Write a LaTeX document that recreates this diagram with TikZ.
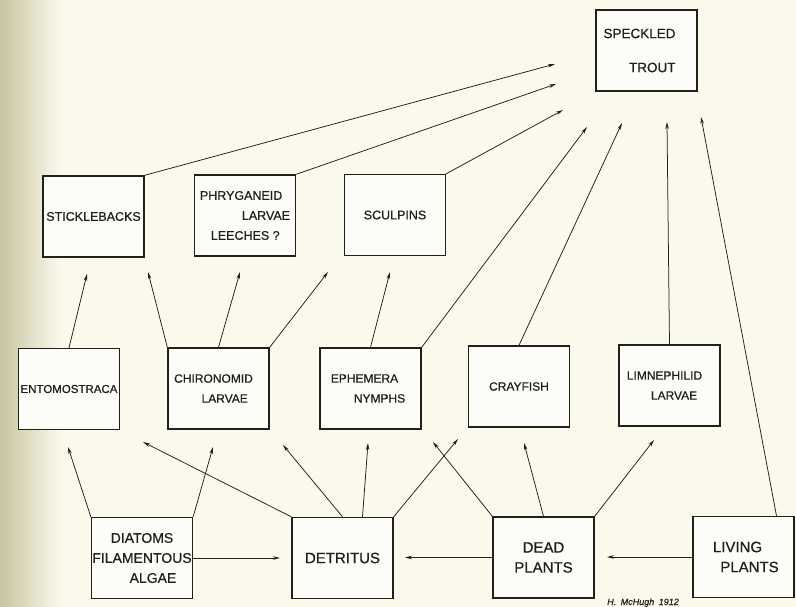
\documentclass[tikz,border=0pt]{standalone}
\usepackage{fontspec}
\setmainfont{Liberation Sans}[FakeBold=0.6]
\usetikzlibrary{arrows.meta}
\definecolor{paper}{RGB}{250,249,236}
\definecolor{paperedge}{RGB}{200,196,160}
\definecolor{boxfill}{RGB}{253,253,248}
\definecolor{ink}{RGB}{32,32,28}

\begin{document}
\begin{tikzpicture}[x=1pt,y=-1pt,>={Stealth[length=7pt,width=3.5pt]},
  box/.style={draw=ink,fill=boxfill,line width=1.4pt,minimum width=101pt,
    minimum height=81pt,inner sep=0pt,align=center,text=ink},
  upper/.style={box,font=\fontsize{12.5}{20}\selectfont},
  middle/.style={box,font=\fontsize{12}{20}\selectfont},
  lower/.style={box,font=\fontsize{15}{20}\selectfont},
  feed/.style={draw=ink,line width=.75pt,->}]
  \fill[paper] (0,0) rectangle (796,607);
  \shade[left color=paperedge,right color=paper] (0,0) rectangle (60,607);
  \useasboundingbox (0,0) rectangle (796,607);

  % fish
  \node[box,align=right,font=\fontsize{13.5}{20}\selectfont] (trout) at (646.5,50.5)
    {SPECKLED\kern14pt\\[14pt]TROUT\kern14pt};
  \node[upper] (stick) at (93.5,216.5) {STICKLEBACKS};
  \node[upper,align=left] (phry) at (245,215.5)
    {PHRYGANEID\\\hspace*{42pt}LARVAE\\\hspace*{11pt}LEECHES ?};
  \node[upper] (sculp) at (395,215) {SCULPINS};

  % middle row
  \node[middle,font=\fontsize{11.5}{20}\selectfont] (ento) at (69,389) {ENTOMOSTRACA};
  \node[middle,align=right] (chiro) at (218.5,388.5) {CHIRONOMID\kern10pt\\LARVAE\kern15pt};
  \node[middle,align=right] (ephem) at (370.5,388.5) {EPHEMERA\kern12pt\\NYMPHS\kern5pt};
  \node[middle] (cray) at (519,386.5) {CRAYFISH};
  \node[middle,align=right] (limn) at (669.5,385.5) {LIMNEPHILID\kern10pt\\LARVAE\kern15pt};

  % food base
  \node[lower,font=\fontsize{14}{20}\selectfont] (diat) at (142,558)
    {DIATOMS\\FILAMENTOUS\\\hspace*{22pt}ALGAE};
  \node[lower] (detr) at (342.5,558) {DETRITUS};
  \node[lower] (dead) at (543.5,557.5) {DEAD\\PLANTS};
  \node[lower] (living) at (743.5,557) {LIVING\kern12pt\\\kern12pt PLANTS};

  \coordinate (livtop) at ([xshift=33pt]living.north);
  \coordinate (detrtop) at ([xshift=20pt]detr.north);

  % arrow tips
  \foreach \n/\x/\y in {tr1/555/64, tr2/556/84, tr3/563/110, tr4/587/127,
      tr5/622/123, tr6/667/122, tr7/701/117,
      m1/87/274, m2/148/272, m3/240/272, m4/328/272, m5/390/272,
      b1/68/447, b2/213/447, b3/143/442, b4/283/445, b5/368/443,
      b6/458/439, b7/433/442, b8/524/443, b9/654/440,
      h1/280/558, h2/405/557.5, h3/607/557}
    \coordinate (\n) at (\x,\y);

  \foreach \a/\b in {stick.north east/tr1, phry.north east/tr2,
      sculp.north east/tr3, ephem.north east/tr4, cray.north/tr5,
      limn.north/tr6, livtop/tr7,
      ento.north/m1, chiro.north west/m2, chiro.north/m3,
      chiro.north east/m4, ephem.north/m5,
      diat.north west/b1, diat.north east/b2, detr.north west/b3,
      detr.north/b4, detrtop/b5, detr.north east/b6,
      dead.north west/b7, dead.north/b8, dead.north east/b9,
      diat.east/h1, dead.west/h2, living.west/h3}
    \draw[feed] (\a) -- (\b);

  \node[anchor=base,text=ink,font=\itshape\fontsize{9}{10}\selectfont] (sig)
    at (643,605) {H.\enspace McHugh\enspace 1912};
\end{tikzpicture}
\end{document}
